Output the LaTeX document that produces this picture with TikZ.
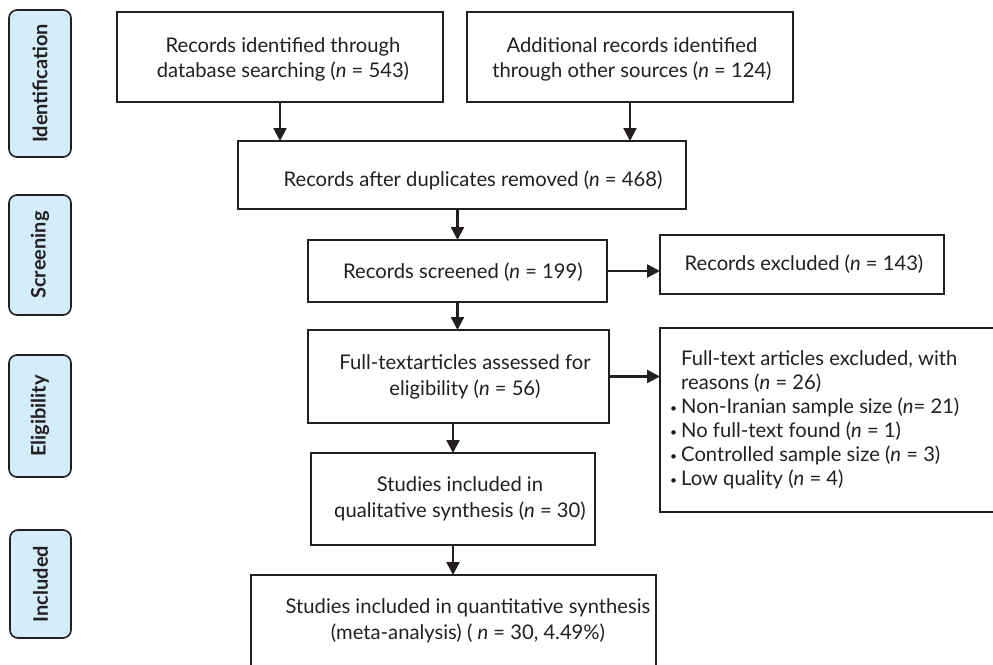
\documentclass[tikz,border=0pt]{standalone}
\usepackage{fontspec}
\setmainfont{Lato}
\usetikzlibrary{arrows.meta}
\definecolor{lineC}{HTML}{231F20}
\definecolor{phaseC}{HTML}{D4EDFB}
\newcommand{\bul}{\llap{\raisebox{1.5pt}{\scalebox{0.6}{\textbullet}}\hspace{4pt}}}
\begin{document}
\begin{tikzpicture}[x=1pt,y=-1pt,
  box/.style={draw=lineC, line width=1.6pt, inner sep=0pt, outer sep=0pt},
  phase/.style={draw=lineC, fill=phaseC, line width=1.6pt, rounded corners=8pt,
    inner sep=0pt, outer sep=0pt, rotate=90,
    font=\fontsize{20}{24}\selectfont\bfseries, text=lineC},
  txt/.style={align=center, inner sep=0pt, font=\fontsize{20.2}{25.5}\selectfont, text=lineC},
  ltxt/.style={align=left, inner sep=0pt, font=\fontsize{20.2}{24}\selectfont, text=lineC},
  arr/.style={draw=lineC, line width=2.3pt, -{Triangle[length=13pt,width=13pt]}}]
\clip (0,0) rectangle (993,664);
\fill[white] (0,0) rectangle (993,664);

% phase labels
\node[phase, minimum width=147, minimum height=62] (p1) at (40,83.5) {Identification};
\node[phase, minimum width=120, minimum height=62] (p2) at (40,255) {Screening};
\node[phase, minimum width=122, minimum height=62] (p3) at (40,416) {Eligibility};
\node[phase, minimum width=108, minimum height=61] (p4) at (40.5,584) {Included};

% boxes
\node[box, minimum width=326, minimum height=90] (b1) at (280,57) {};
\node[box, minimum width=326, minimum height=90] (b2) at (630,57) {};
\node[box, minimum width=448, minimum height=68] (b3) at (462,175) {};
\node[box, minimum width=299, minimum height=62] (b4) at (457.5,271) {};
\node[box, minimum width=284, minimum height=59] (b5) at (802,264.5) {};
\node[box, minimum width=301, minimum height=93] (b6) at (458.5,376.5) {};
\node[box, minimum width=350, minimum height=184] (b7) at (835,420) {};
\node[box, minimum width=284, minimum height=92] (b8) at (453,499) {};
\node[box, minimum width=405, minimum height=125] (b9) at (453.5,637.5) {};

% texts
\node[txt] (t1) at (283,59.5) {Records identified through\\database searching (\textit{n} = 543)};
\node[txt] (t2) at (632,59.5) {Additional records identified\\through other sources (\textit{n} = 124)};
\node[txt] (t3) at (473,180) {Records after duplicates removed (\textit{n} = 468)};
\node[txt] (t4) at (463,272) {Records screened (\textit{n} = 199)};
\node[txt] (t5) at (804,264) {Records excluded (\textit{n} = 143)};
\node[txt] (t6) at (465,377) {Full-textarticles assessed for\\eligibility (\textit{n} = 56)};
\node[ltxt, anchor=west] (t7) at (681,420) {Full-text articles excluded, with\\
reasons (\textit{n} = 26)\\
\bul Non-Iranian sample size (\textit{n}= 21)\\
\bul No full-text found (\textit{n} = 1)\\
\bul Controlled sample size (\textit{n} = 3)\\
\bul Low quality (\textit{n} = 4)};
\node[txt] (t8) at (460,499) {Studies included in\\qualitative synthesis (\textit{n} = 30)};
\node[txt] (t9) at (468,621) {Studies included in quantitative synthesis\\(meta-analysis) ( \textit{n} = 30, 4.49\%)};

% connectors
\draw[arr] (b1.south) -- (b1.south |- b3.north);
\draw[arr] (b2.south) -- (b2.south |- b3.north);
\draw[arr] (b4.north |- b3.south) -- (b4.north);
\draw[arr] (b4.south) -- (b4.south |- b6.north);
\draw[arr] (b8.north |- b6.south) -- (b8.north);
\draw[arr] (b8.south) -- (b8.south |- b9.north);
\draw[arr] (b4.east) -- (b4.east -| b5.west);
\draw[arr] (b6.east) -- (b6.east -| b7.west);
\end{tikzpicture}
\end{document}
